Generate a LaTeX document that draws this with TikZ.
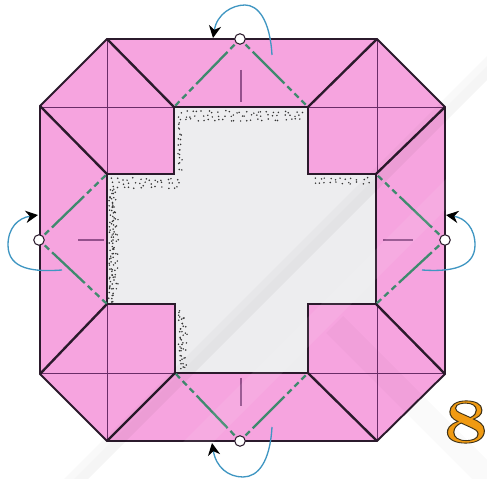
\documentclass[tikz,border=0pt]{standalone}
\usepackage{tikz}
\usetikzlibrary{arrows.meta}
\definecolor{foldpink}{HTML}{F6A4DF}
\definecolor{innergray}{HTML}{EDEDEF}
\definecolor{foldgreen}{HTML}{3F8A6E}
\definecolor{arcblue}{HTML}{3F96C2}
\definecolor{creasepurple}{HTML}{6A2C68}
\definecolor{edgedark}{HTML}{2B1A2C}
\definecolor{numorange}{HTML}{F09A12}
\tikzset{
  edgeline/.style={draw=edgedark, line width=1.35pt, line join=miter},
  creaseline/.style={draw=creasepurple, line width=.5pt},
  shortcrease/.style={draw=creasepurple!70!foldpink, line width=.6pt},
  greenfold/.style={draw=foldgreen, line width=1.3pt, shorten <=4.5pt,
    dash pattern=on 3.4pt off 2.3pt on 25.6pt off 2.3pt on 3.4pt off 2.3pt on 3.4pt off 2.3pt on 3.4pt off 60pt},
  turnarc/.style={draw=arcblue, line width=.75pt, -{Stealth[length=7pt, width=7pt, black]}},
  pivot/.style={circle, draw=edgedark, fill=white, line width=.6pt, inner sep=0pt, minimum size=6pt},
  markband/.style={fill=black, opacity=.025},
  lightband/.style={fill=white, opacity=.08}
}
\newcommand{\dotstrip}[6]{
  \foreach \px in {#1,#5,...,#3} {
    \foreach \py in {#2,#6,...,#4} {
      \pgfmathsetmacro{\dotx}{\px+2.4*rand}
      \pgfmathsetmacro{\doty}{\py+1.4*rand}
      \fill[black!80] (\dotx, \doty) circle (.85);
    }
  }
}
\begin{document}
\begin{tikzpicture}[x=.02cm, y=-.02cm]
      \useasboundingbox (0, 0) rectangle (487, 479);
      \fill[white] (0, 0) rectangle (487, 479);
      \coordinate (a1) at (174, 107);
      \coordinate (a2) at (308, 107);
      \coordinate (b1) at (107, 174);
      \coordinate (b2) at (376, 174);
      \coordinate (c1) at (107, 304);
      \coordinate (c2) at (376, 304);
      \coordinate (d1) at (175, 373);
      \coordinate (d2) at (308, 373);
      \fill[foldpink] (107, 39) -- (377, 39) -- (445, 107) -- (445, 374) -- (377, 441) -- (107, 441) -- (40, 374) -- (40, 106) -- cycle;
      \fill[innergray] (a1) -- (a2) -- (308, 174) -- (b2) -- (c2) -- (308, 304) -- (d2) -- (d1) -- (175, 304) -- (c1) -- (b1) -- (174, 174) -- cycle;
      \pgfmathsetseed{8}
      \dotstrip{180}{112}{304}{120}{185.5}{116}
      \dotstrip{179}{124}{179}{172}{180}{129}
      \dotstrip{112}{179}{178}{187}{117.5}{183}
      \dotstrip{314}{179}{372}{185}{319.5}{183}
      \dotstrip{111}{190}{111}{302}{112}{193}
      \dotstrip{115}{192}{115}{296}{116}{199}
      \dotstrip{180}{312}{180}{370}{181}{316}
      \dotstrip{184}{318}{184}{366}{185}{326}
      \draw[creaseline] (107, 39) -- (107, 174);
      \draw[creaseline] (377, 39) -- (377, 174);
      \draw[creaseline] (107, 304) -- (107, 441);
      \draw[creaseline] (377, 304) -- (377, 441);
      \draw[creaseline] (40, 107) -- (174, 107);
      \draw[creaseline] (308, 107) -- (445, 107);
      \draw[creaseline] (40, 373) -- (175, 373);
      \draw[creaseline] (308, 373) -- (445, 373);
      \draw[shortcrease] (241, 70) -- (241, 102);
      \draw[shortcrease] (241, 378) -- (241, 406);
      \draw[shortcrease] (78, 240) -- (104, 240);
      \draw[shortcrease] (383, 240) -- (413, 240);
      \draw[edgeline, line width=1.1pt] (107, 39) -- (377, 39) -- (445, 107) -- (445, 374) -- (377, 441) -- (107, 441) -- (40, 374) -- (40, 106) -- cycle;
      \draw[edgeline, line width=1.6pt] (a1) -- (a2) -- (308, 174) -- (b2) -- (c2) -- (308, 304) -- (d2) -- (d1) -- (175, 304) -- (c1) -- (b1) -- (174, 174) -- cycle;
      \draw[edgeline] (107, 39) -- (a1);
      \draw[edgeline] (377, 39) -- (a2);
      \draw[edgeline] (40, 106) -- (b1);
      \draw[edgeline] (445, 107) -- (b2);
      \draw[edgeline] (40, 374) -- (c1);
      \draw[edgeline] (445, 374) -- (c2);
      \draw[edgeline] (107, 441) -- (d1);
      \draw[edgeline] (377, 441) -- (d2);
      \node[pivot] (ptop) at (240, 39) {};
      \node[pivot] (pleft) at (39, 240) {};
      \node[pivot] (pright) at (445, 240) {};
      \node[pivot] (pbottom) at (240, 441) {};
      \draw[greenfold] (ptop.center) -- (a1);
      \draw[greenfold] (ptop.center) -- (a2);
      \draw[greenfold] (pleft.center) -- (b1);
      \draw[greenfold] (pleft.center) -- (c1);
      \draw[greenfold] (pright.center) -- (b2);
      \draw[greenfold] (pright.center) -- (c2);
      \draw[greenfold] (pbottom.center) -- (d1);
      \draw[greenfold] (pbottom.center) -- (d2);
      \coordinate (stop) at (272, 55);
      \coordinate (sleft) at (62, 270);
      \coordinate (sright) at (422, 270);
      \coordinate (sbottom) at (272, 427);
      \draw[turnarc] (stop) .. controls (270, 20) and (258, 5) .. (245, 5) .. controls (232, 5) and (217, 14) .. (213, 38);
      \draw[turnarc] (sleft) .. controls (35, 272) and (8, 270) .. (8, 245) .. controls (8, 228) and (18, 218) .. (38, 215);
      \draw[turnarc] (sright) .. controls (450, 272) and (475, 268) .. (475, 245) .. controls (475, 228) and (465, 218) .. (446, 215);
      \draw[turnarc] (sbottom) .. controls (270, 462) and (258, 477) .. (243, 477) .. controls (228, 477) and (216, 467) .. (212, 443);
      \fill[markband] (63, 480) -- (487, 56) -- (487, 80) -- (87, 480) -- cycle;
      \fill[markband, opacity=.015] (73, 480) -- (487, 66) -- (487, 80) -- (87, 480) -- cycle;
      \fill[markband, opacity=.02] (326, 333) -- (343, 316) -- (487, 460) -- (487, 479) -- (472, 479) -- cycle;
      \fill[lightband] (146, 479) -- (487, 138) -- (487, 168) -- (176, 479) -- cycle;
      \node[inner sep=0pt, text=numorange, xscale=1.25] (stepnum) at (466, 422) {\special{pdf:code 2 Tr 0.5 w 0.25 0.2 0.1 RG}\fontsize{36}{36}\selectfont\bfseries 8\special{pdf:code 0 Tr}};
    \end{tikzpicture}
\end{document}
